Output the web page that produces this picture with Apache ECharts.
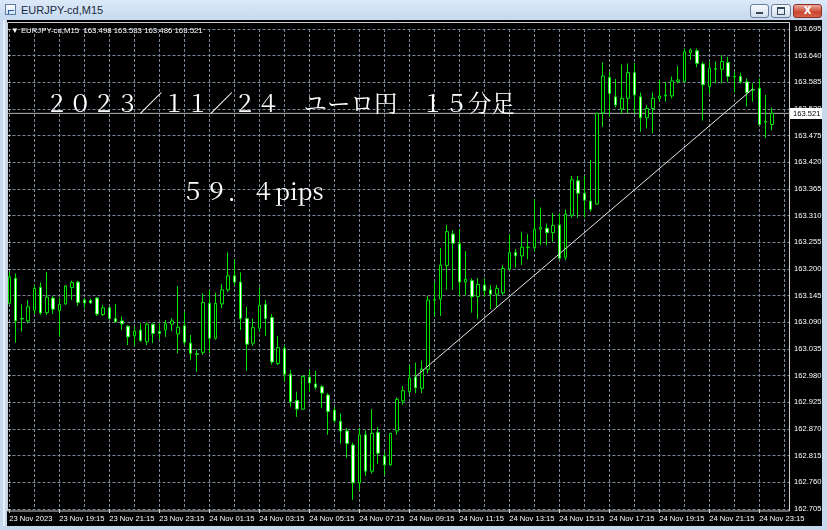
<!DOCTYPE html>
<html><head><meta charset="utf-8">
<script src="https://cdn.jsdelivr.net/npm/echarts@6/dist/echarts.min.js"></script>
<style>
html,body{margin:0;padding:0;width:827px;height:530px;overflow:hidden;background:#c5d8ee;}
#win{position:absolute;left:0;top:0;width:827px;height:530px;background:linear-gradient(#dce9f8 0px,#c6d9f0 20px,#c5d8ee 21px);}
#leftline{position:absolute;left:3px;top:20px;width:2px;height:506px;background:#e8f0fa;}
#black{position:absolute;left:7px;top:20px;width:815px;height:506px;background:#000;}
#icon{position:absolute;left:5px;top:4px;width:11px;height:11px;border:1px solid #5b7aa6;background:linear-gradient(#ffffff,#cfe0f4);box-sizing:border-box;}
#icon:after{content:"";position:absolute;left:2px;top:5px;width:5px;height:3px;border-top:1px solid #2a5aa0;border-left:1px solid #2a5aa0;}
#title{position:absolute;left:21px;top:3px;font:11px "Liberation Sans","DejaVu Sans",sans-serif;color:#1b2a3c;line-height:14px;}
.btn{position:absolute;top:4px;height:14px;border:1px solid #6b7d99;border-radius:3px;box-sizing:border-box;background:linear-gradient(#f7fafd,#d3dfee);}
#bmin{left:750px;width:19px;}
#bmin:after{content:"";position:absolute;left:5px;top:7px;width:7px;height:2px;background:#33475f;}
#bmax{left:771px;width:20px;}
#bmax:after{content:"";position:absolute;left:5px;top:2px;width:6px;height:5px;border:1px solid #33475f;border-top-width:2px;}
#bclose{left:793px;width:29px;border-color:#8c2e22;background:linear-gradient(#eba99c,#c9452f 60%,#d4624c);color:#fff;font:bold 10px "DejaVu Sans",sans-serif;text-align:center;line-height:12px;}
#chart{position:absolute;left:0;top:0;width:827px;height:530px;}
</style></head>
<body>
<div id="win"></div><div id="leftline"></div>
<div id="icon"></div><div id="title">EURJPY-cd,M15</div>
<div class="btn" id="bmin"></div><div class="btn" id="bmax"></div><div class="btn" id="bclose">X</div>
<div id="black"></div>
<div id="chart"></div>
<script>
const symbolName = 'EURJPY-cd,M15';
const titleText = '２０２３／１１／２４　ユーロ円　１５分足';
const pipsText = '５９．４pips';

const times = [
'2023.11.23 17:15','2023.11.23 17:30','2023.11.23 17:45','2023.11.23 18:00','2023.11.23 18:15','2023.11.23 18:30','2023.11.23 18:45','2023.11.23 19:00',
'2023.11.23 19:15','2023.11.23 19:30','2023.11.23 19:45','2023.11.23 20:00','2023.11.23 20:15','2023.11.23 20:30','2023.11.23 20:45','2023.11.23 21:00',
'2023.11.23 21:15','2023.11.23 21:30','2023.11.23 21:45','2023.11.23 22:00','2023.11.23 22:15','2023.11.23 22:30','2023.11.23 22:45','2023.11.23 23:00',
'2023.11.23 23:15','2023.11.23 23:30','2023.11.23 23:45','2023.11.24 00:00','2023.11.24 00:15','2023.11.24 00:30','2023.11.24 00:45','2023.11.24 01:00',
'2023.11.24 01:15','2023.11.24 01:30','2023.11.24 01:45','2023.11.24 02:00','2023.11.24 02:15','2023.11.24 02:30','2023.11.24 02:45','2023.11.24 03:00',
'2023.11.24 03:15','2023.11.24 03:30','2023.11.24 03:45','2023.11.24 04:00','2023.11.24 04:15','2023.11.24 04:30','2023.11.24 04:45','2023.11.24 05:00',
'2023.11.24 05:15','2023.11.24 05:30','2023.11.24 05:45','2023.11.24 06:00','2023.11.24 06:15','2023.11.24 06:30','2023.11.24 06:45','2023.11.24 07:00',
'2023.11.24 07:15','2023.11.24 07:30','2023.11.24 07:45','2023.11.24 08:00','2023.11.24 08:15','2023.11.24 08:30','2023.11.24 08:45','2023.11.24 09:00',
'2023.11.24 09:15','2023.11.24 09:30','2023.11.24 09:45','2023.11.24 10:00','2023.11.24 10:15','2023.11.24 10:30','2023.11.24 10:45','2023.11.24 11:00',
'2023.11.24 11:15','2023.11.24 11:30','2023.11.24 11:45','2023.11.24 12:00','2023.11.24 12:15','2023.11.24 12:30','2023.11.24 12:45','2023.11.24 13:00',
'2023.11.24 13:15','2023.11.24 13:30','2023.11.24 13:45','2023.11.24 14:00','2023.11.24 14:15','2023.11.24 14:30','2023.11.24 14:45','2023.11.24 15:00',
'2023.11.24 15:15','2023.11.24 15:30','2023.11.24 15:45','2023.11.24 16:00','2023.11.24 16:15','2023.11.24 16:30','2023.11.24 16:45','2023.11.24 17:00',
'2023.11.24 17:15','2023.11.24 17:30','2023.11.24 17:45','2023.11.24 18:00','2023.11.24 18:15','2023.11.24 18:30','2023.11.24 18:45','2023.11.24 19:00',
'2023.11.24 19:15','2023.11.24 19:30','2023.11.24 19:45','2023.11.24 20:00','2023.11.24 20:15','2023.11.24 20:30','2023.11.24 20:45','2023.11.24 21:00',
'2023.11.24 21:15','2023.11.24 21:30','2023.11.24 21:45','2023.11.24 22:00','2023.11.24 22:15','2023.11.24 22:30','2023.11.24 22:45','2023.11.24 23:00',
'2023.11.24 23:15','2023.11.24 23:30','2023.11.24 23:45'
];
const padSlots = ['', ''];

const xTickLabels = ['23 Nov 2023','23 Nov 19:15','23 Nov 21:15','23 Nov 23:15','24 Nov 01:15','24 Nov 03:15','24 Nov 05:15','24 Nov 07:15',
'24 Nov 09:15','24 Nov 11:15','24 Nov 13:15','24 Nov 15:15','24 Nov 17:15','24 Nov 19:15','24 Nov 21:15','24 Nov 23:15'];

const opens = [
163.129,163.181,163.098,163.093,163.115,163.162,163.110,163.140,163.114,163.128,163.162,163.173,163.136,163.135,163.140,163.106,
163.120,163.098,163.093,163.082,163.062,163.074,163.050,163.086,163.071,163.074,163.086,163.066,163.083,163.047,163.025,163.028,
163.129,163.057,163.128,163.157,163.186,163.173,163.098,163.047,163.078,163.127,163.100,163.005,163.036,162.983,162.929,162.911,
162.977,162.963,162.957,162.940,162.909,162.886,162.866,162.837,162.759,162.858,162.783,162.863,162.814,162.796,162.866,162.928,
162.947,162.977,162.954,162.993,163.136,163.138,163.207,163.272,163.252,163.173,163.176,163.143,163.167,163.157,163.148,163.151,
163.200,163.234,163.227,163.244,163.244,163.282,163.284,163.275,163.291,163.224,163.311,163.382,163.356,163.340,163.334,163.522,
163.595,163.555,163.530,163.552,163.605,163.555,163.512,163.531,163.552,163.557,163.557,163.587,163.587,163.646,163.650,163.623,
163.576,163.613,163.612,163.626,163.597,163.597,163.586,163.570,163.573,163.504,163.498];
const highs = [
163.194,163.191,163.127,163.136,163.167,163.172,163.194,163.144,163.140,163.167,163.176,163.176,163.140,163.139,163.142,163.126,
163.122,163.128,163.102,163.084,163.081,163.088,163.089,163.088,163.088,163.095,163.099,163.165,163.112,163.064,163.034,163.150,
163.157,163.151,163.169,163.234,163.220,163.193,163.122,163.098,163.162,163.136,163.107,163.062,163.043,162.992,162.947,162.981,
162.992,162.990,162.961,162.944,162.916,162.902,162.872,162.842,162.872,162.867,162.911,162.874,162.823,162.862,162.935,162.959,
163.002,163.007,163.011,163.144,163.174,163.243,163.291,163.280,163.282,163.237,163.181,163.181,163.181,163.167,163.167,163.208,
163.272,163.241,163.277,163.272,163.344,163.327,163.294,163.316,163.315,163.323,163.392,163.392,163.392,163.425,163.522,163.626,
163.607,163.592,163.622,163.624,163.625,163.564,163.538,163.564,163.590,163.586,163.597,163.619,163.655,163.655,163.655,163.628,
163.628,163.628,163.641,163.638,163.607,163.605,163.593,163.583,163.593,163.559,163.533];
const lows = [
163.126,163.048,163.071,163.088,163.107,163.105,163.105,163.107,163.060,163.126,163.136,163.124,163.119,163.128,163.103,163.103,
163.096,163.090,163.074,163.043,163.041,163.050,163.043,163.047,163.056,163.060,163.072,163.026,163.043,163.012,162.988,163.023,
163.026,163.054,163.119,163.153,163.167,163.074,162.990,163.041,163.071,163.062,163.003,163.002,162.968,162.916,162.895,162.909,
162.947,162.951,162.913,162.858,162.882,162.840,162.810,162.724,162.743,162.773,162.778,162.798,162.775,162.794,162.858,162.920,
162.942,162.944,162.944,162.985,163.102,163.103,163.157,163.157,163.143,163.146,163.110,163.097,163.143,163.117,163.122,163.146,
163.198,163.203,163.208,163.220,163.236,163.249,163.249,163.256,163.220,163.218,163.305,163.305,163.306,163.318,163.332,163.493,
163.514,163.533,163.520,163.521,163.521,163.483,163.490,163.480,163.545,163.545,163.552,163.583,163.585,163.631,163.616,163.506,
163.562,163.583,163.583,163.586,163.564,163.582,163.535,163.545,163.497,163.470,163.486];
const closes = [
163.184,163.093,163.097,163.122,163.160,163.109,163.142,163.117,163.127,163.165,163.172,163.131,163.130,163.130,163.107,163.120,
163.098,163.091,163.087,163.060,163.072,163.052,163.086,163.067,163.067,163.087,163.093,163.080,163.049,163.026,163.024,163.131,
163.057,163.129,163.157,163.186,163.173,163.098,163.045,163.079,163.125,163.098,163.008,163.038,162.983,162.926,162.911,162.978,
162.965,162.956,162.944,162.906,162.887,162.866,162.840,162.759,162.858,162.783,162.861,162.820,162.796,162.861,162.931,162.949,
162.975,162.955,162.993,163.136,163.137,163.208,163.277,163.253,163.173,163.179,163.143,163.168,163.155,163.148,163.160,163.201,
163.234,163.227,163.245,163.245,163.282,163.286,163.275,163.290,163.222,163.313,163.384,163.356,163.342,163.323,163.521,163.598,
163.562,163.538,163.552,163.605,163.559,163.512,163.531,163.552,163.557,163.559,163.588,163.590,163.648,163.652,163.624,163.580,
163.614,163.612,163.628,163.597,163.596,163.586,163.564,163.569,163.498,163.503,163.521];

const trendStart = {time: '2023.11.24 09:30', price: 162.978};
const trendEnd = {time: '2023.11.24 23:00', price: 163.572};

const yMin = 162.705, yMax = 163.695, yStep = 0.055;

const green = '#00e400';
const gridColor = '#7b8b9d';
const axisFont = '"Liberation Sans","DejaVu Sans",sans-serif';
const jpFont = '"Noto Serif CJK JP","Noto Sans CJK JP",serif';

const n = times.length;
const last = n - 1;
const candleData = times.map((t, i) => [opens[i], closes[i], lows[i], highs[i]]);
const xCats = times.concat(padSlots);
const infoText = '▼ ' + symbolName + '  ' + opens[last].toFixed(3) + ' ' + highs[last].toFixed(3) + ' ' +
  lows[last].toFixed(3) + ' ' + closes[last].toFixed(3);

const chart = echarts.init(document.getElementById('chart'), null, {renderer: 'canvas'});

const baseGraphic = [
  {id: 'frame', type: 'rect', shape: {x: 7.5, y: 22.5, width: 782, height: 488.5}, style: {fill: 'none', stroke: '#cfcfcf', lineWidth: 1}, z: 1, silent: true},
  {id: 'info', type: 'text', x: 11, y: 30.5, style: {text: infoText, fill: '#ffffff', font: '7.8px ' + axisFont, verticalAlign: 'middle', align: 'left'}, z: 5, silent: true},
  {id: 'title', type: 'text', x: 45, y: 103, style: {text: titleText, fill: '#ffffff', font: '23.5px ' + jpFont, verticalAlign: 'middle', align: 'left'}, z: 5, silent: true},
  {id: 'pips', type: 'text', x: 181, y: 191, style: {text: pipsText, fill: '#ffffff', font: '23.5px ' + jpFont, verticalAlign: 'middle', align: 'left'}, z: 5, silent: true}
];

const option = {
  animation: false,
  backgroundColor: 'transparent',
  grid: [
    {left: 9.3, top: 29, width: 775, height: 480},
    {left: 7.5, top: 29, width: 781.5, height: 480}
  ],
  xAxis: [
    {type: 'category', gridIndex: 0, data: xCats, boundaryGap: false,
     axisLine: {show: false},
     axisTick: {show: true, interval: (i) => i % 8 === 0, length: 4, lineStyle: {color: '#cfcfcf'}},
     axisLabel: {interval: (i) => i % 8 === 0, formatter: (v, i) => (i % 8 === 0 && xTickLabels[i / 8]) ? xTickLabels[i / 8] : '',
       align: 'left', color: '#ffffff', fontSize: 7.6, fontFamily: axisFont, margin: 6},
     splitLine: {show: true, interval: (i) => i % 4 === 0, lineStyle: {color: gridColor, type: [3, 2], width: 1}}},
    {type: 'value', gridIndex: 1, min: 0, max: 1, show: false}
  ],
  yAxis: [
    {type: 'value', gridIndex: 0, min: yMin, max: yMax, show: false},
    {type: 'value', gridIndex: 1, position: 'right', min: yMin, max: yMax, interval: yStep,
     axisLine: {show: false},
     axisTick: {show: true, length: 3, lineStyle: {color: '#cfcfcf'}},
     axisLabel: {formatter: (v) => v.toFixed(3), color: '#ffffff', fontSize: 7.6, fontFamily: axisFont, margin: 5},
     splitLine: {show: true, lineStyle: {color: gridColor, type: [3, 2], width: 1}}}
  ],
  series: [
    {type: 'line', xAxisIndex: 1, yAxisIndex: 1, data: [[0, closes[last]], [1, closes[last]]],
     symbol: 'none', lineStyle: {color: '#b4b4b4', width: 1}, silent: true, z: 1},
    {type: 'candlestick', xAxisIndex: 0, yAxisIndex: 0, data: candleData, barWidth: 3, clip: false, silent: true,
     itemStyle: {color: '#000000', color0: '#ffffff', borderColor: green, borderColor0: green, borderWidth: 1},
     markLine: {symbol: ['none', 'none'], silent: true, label: {show: false},
       lineStyle: {color: '#e6e6e6', width: 1, type: 'solid'},
       data: [[{coord: [trendStart.time, trendStart.price]}, {coord: [trendEnd.time, trendEnd.price]}]]},
     z: 3}
  ],
  graphic: baseGraphic
};
chart.setOption(option);

const by = chart.convertToPixel({yAxisIndex: 1}, closes[last]);
chart.setOption({graphic: baseGraphic.concat([
  {id: 'bidbox', type: 'rect', shape: {x: 790, y: Math.round(by) - 5, width: 32, height: 11}, style: {fill: '#ffffff'}, z: 10, silent: true},
  {id: 'bidtxt', type: 'text', x: 793, y: Math.round(by) + 0.5, style: {text: closes[last].toFixed(3), fill: '#000000', font: '7.6px ' + axisFont, verticalAlign: 'middle', align: 'left'}, z: 11, silent: true}
])});
</script>
</body></html>
